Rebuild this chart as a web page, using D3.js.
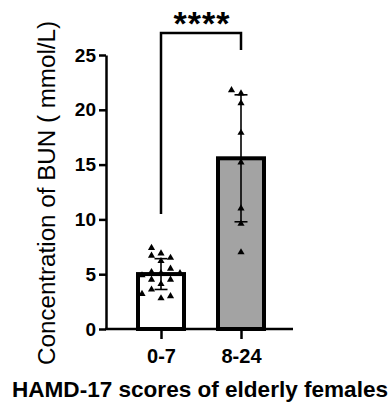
<!DOCTYPE html>
<html>
<head>
<meta charset="utf-8">
<script src="https://cdn.jsdelivr.net/npm/d3@7"></script>
<style>
  body { margin: 0; background: #fff; }
  svg text { font-family: "Liberation Sans", Arial, sans-serif; }
</style>
</head>
<body>
<div id="chart"></div>
<script>
// data
const groups = ["0-7", "8-24"];
const low = [6.9, 7.4, 6.7, 6.5, 6.2, 5.1, 5.2, 5.5, 4.9, 5.1, 4.5, 4.5, 4.1, 3.6, 2.8, 3.0, 3.2];
const high = [21.5, 21.8, 20.6, 17.9, 15.2, 11.0, 9.6, 7.0];
const yTicks = [0, 5, 10, 15, 20, 25];
const barFill = ["#ffffff", "#a3a3a3"];

const values = [low, high];

let width = 391, height = 405;

let svg = d3.select("#chart").append("svg")
    .attr("width", width)
    .attr("height", height);

// scales
let y = d3.scaleLinear().domain([0, 25]).range([329, 55]);
let x = d3.scalePoint().domain(groups).range([161, 241]);

let stats = groups.map((g, i) => ({
    key: g,
    mean: d3.mean(values[i]),
    sd: d3.deviation(values[i]),
    fill: barFill[i]
}));

// bars
svg.selectAll(".bar")
    .data(stats)
    .enter().append("rect")
    .attr("class", "bar")
    .attr("x", d => x(d.key) - 23)
    .attr("width", 46)
    .attr("y", d => y(d.mean))
    .attr("height", d => y(0) - y(d.mean))
    .attr("fill", d => d.fill)
    .attr("stroke", "#000")
    .attr("stroke-width", 4);

// simple beeswarm so triangles don't overlap
function swarm(vals, cx) {
    let placed = [];
    let step = 9.5;
    return vals.map(v => {
        let py = y(v);
        let offsets = [0, -1, 1, -2, 2, -3, 3];
        let px = cx;
        for (let o of offsets) {
            let tx = cx + o * step;
            let clash = placed.some(p => Math.abs(p[0] - tx) < 8 && Math.abs(p[1] - py) < 7);
            if (!clash) { px = tx; break; }
        }
        placed.push([px, py]);
        return [px, py];
    });
}

// error bars (mean ± SD)
let err = svg.selectAll(".err")
    .data(stats)
    .enter().append("g")
    .attr("class", "err")
    .attr("stroke", "#000")
    .attr("stroke-width", 1.6);

err.append("line")
    .attr("x1", d => x(d.key)).attr("x2", d => x(d.key))
    .attr("y1", d => y(d.mean - d.sd)).attr("y2", d => y(d.mean + d.sd));
err.append("line")
    .attr("x1", d => x(d.key) - 6.5).attr("x2", d => x(d.key) + 6.5)
    .attr("y1", d => y(d.mean + d.sd)).attr("y2", d => y(d.mean + d.sd));
err.append("line")
    .attr("x1", d => x(d.key) - 6.5).attr("x2", d => x(d.key) + 6.5)
    .attr("y1", d => y(d.mean - d.sd)).attr("y2", d => y(d.mean - d.sd));

// points
let tri = d3.symbol().type(d3.symbolTriangle).size(22);
groups.forEach((g, i) => {
    let pts = swarm(values[i], x(g));
    svg.selectAll(".pt" + i)
        .data(pts)
        .enter().append("path")
        .attr("class", "pt" + i)
        .attr("d", tri)
        .attr("transform", d => "translate(" + d[0] + "," + d[1] + ")")
        .attr("fill", "#000");
});

// axes
let yAxis = d3.axisLeft(y).tickValues(yTicks).tickSize(7).tickPadding(3).tickSizeOuter(0);
let gy = svg.append("g")
    .attr("transform", "translate(106,0)")
    .call(yAxis);
gy.select(".domain").attr("stroke-width", 2.5);
gy.selectAll(".tick line").attr("stroke-width", 2.5);
gy.selectAll(".tick text")
    .attr("font-size", 19)
    .attr("font-weight", "bold")
    .attr("fill", "#000");

let xAxis = d3.axisBottom(x).tickSize(10).tickPadding(10);
let gx = svg.append("g")
    .attr("transform", "translate(0,329)")
    .call(xAxis);
gx.select(".domain").remove();
gx.append("line")
    .attr("x1", 105).attr("x2", 293)
    .attr("stroke", "#000").attr("stroke-width", 2.5);
gx.selectAll(".tick line").attr("stroke-width", 2.5);
gx.selectAll(".tick text")
    .attr("font-size", 20)
    .attr("font-weight", "bold")
    .attr("fill", "#000");

// axis titles
svg.append("text")
    .attr("x", 200)
    .attr("y", 397)
    .attr("text-anchor", "middle")
    .attr("font-size", 22)
    .attr("font-weight", "bold")
    .attr("textLength", 376)
    .attr("lengthAdjust", "spacingAndGlyphs")
    .text("HAMD-17 scores of elderly females");

svg.append("text")
    .attr("transform", "translate(55,193) rotate(-90)")
    .attr("text-anchor", "middle")
    .attr("font-size", 23)
    .attr("textLength", 344)
    .attr("lengthAdjust", "spacingAndGlyphs")
    .text("Concentration of BUN ( mmol/L)");

// significance bracket
let bx1 = x(groups[0]), bx2 = x(groups[1]);
svg.append("path")
    .attr("d", "M" + bx1 + "," + 214 + "V" + 33 + "H" + bx2 + "V" + 50)
    .attr("fill", "none")
    .attr("stroke", "#000")
    .attr("stroke-width", 2.5);

svg.append("text")
    .attr("x", (bx1 + bx2) / 2 + 1)
    .attr("y", 35)
    .attr("text-anchor", "middle")
    .attr("font-size", 34)
    .attr("font-weight", "bold")
    .attr("letter-spacing", 1)
    .text("****");
</script>
</body>
</html>
